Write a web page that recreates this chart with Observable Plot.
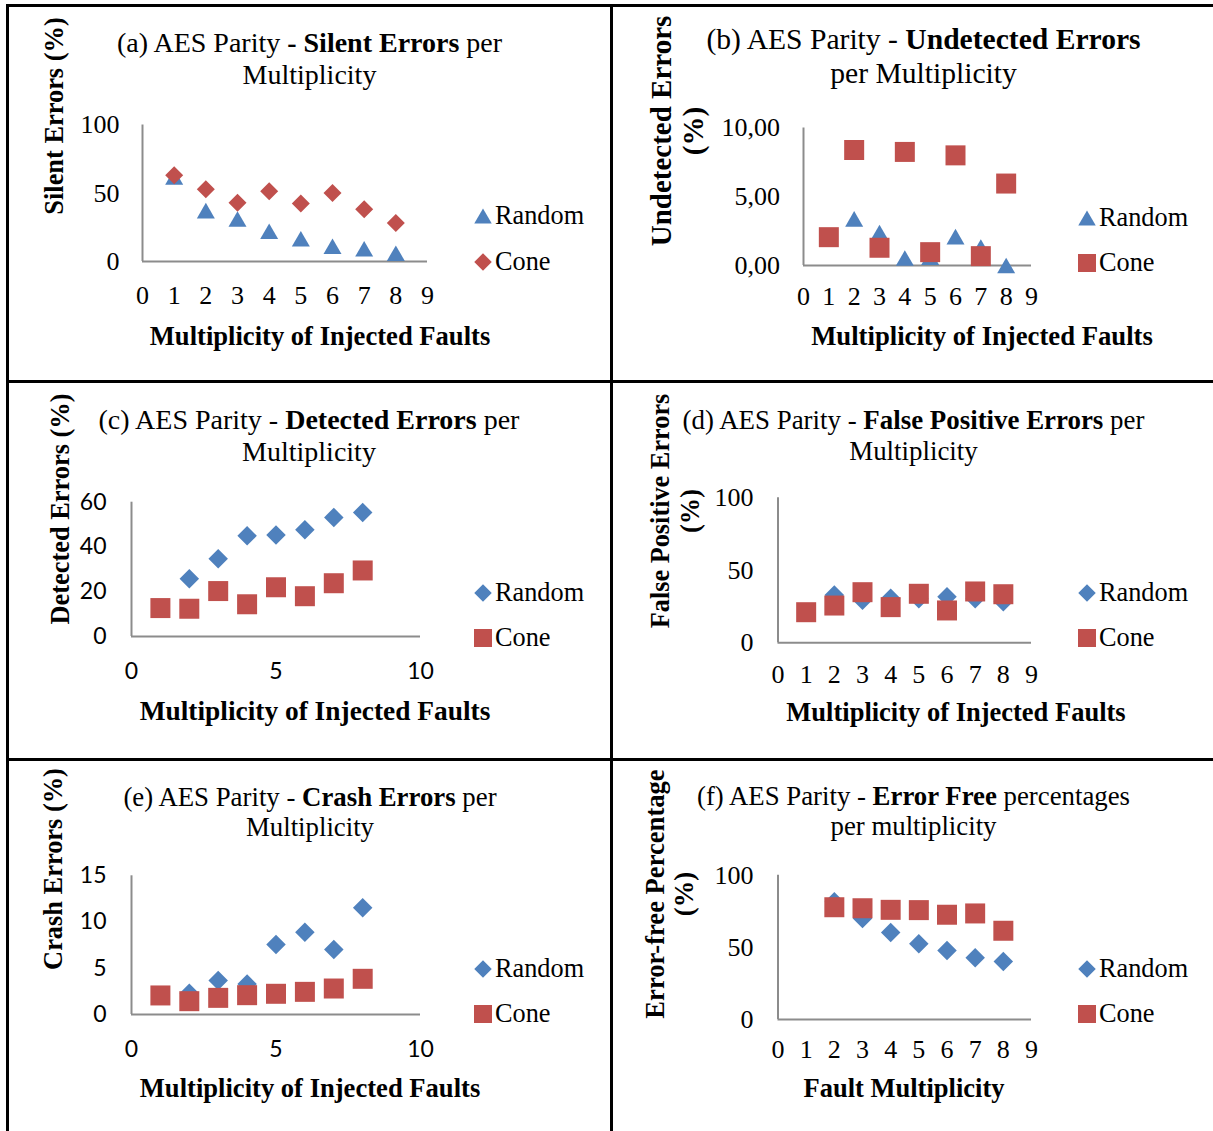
<!DOCTYPE html>
<html>
<head>
<meta charset="utf-8">
<script src="https://cdn.jsdelivr.net/npm/d3@7"></script>
<script src="https://cdn.jsdelivr.net/npm/@observablehq/plot@0.6"></script>
<style>
html, body { margin: 0; padding: 0; background: #fff; }
#page { position: relative; width: 1213px; height: 1131px; overflow: hidden; background: #fff;
        font-family: "Liberation Serif", "Times New Roman", serif; color: #000; }
.rule { position: absolute; background: #000; }
.t { position: absolute; white-space: nowrap; line-height: 1; font-family: "Liberation Serif", serif; color: #000; }
.rot { position: absolute; width: 0; height: 0; transform: rotate(-90deg); transform-origin: 0 0; }
</style>
</head>
<body>
<div id="page"></div>
<script>
// ---------------- DATA ----------------
const multiplicity = [1, 2, 3, 4, 5, 6, 7, 8];
const multiplicityFrom2 = [2, 3, 4, 5, 6, 7, 8];

// (a) Silent errors (%)
const silentRandom = [62, 37.3, 31.1, 22.2, 16.7, 11.2, 9.3, 6.1];
const silentCone   = [63.2, 52.9, 43.1, 51.5, 42.4, 50.2, 38.2, 28.2];

// (b) Undetected errors (%)
const undetectedRandom = [3.39, 2.4, 0.54, 0.6, 2.1, 1.35, 0.0];        // x = 2..8
const undetectedCone   = [2.06, 8.4, 1.29, 8.26, 0.97, 8.01, 0.68, 5.96]; // x = 1..8

// (c) Detected errors (%)
const detectedRandom = [25.8, 34.7, 45.0, 45.3, 47.7, 53.2, 55.4];       // x = 2..8
const detectedCone   = [12.7, 12.4, 20.3, 14.4, 22.0, 18.0, 23.8, 29.5];

// (d) False positive errors (%)
const falsePositiveRandom = [33.0, 29.3, 30.7, 30.4, 31.8, 30.4, 28.3];  // x = 2..8
const falsePositiveCone   = [21.1, 25.7, 34.9, 24.6, 33.8, 22.3, 35.4, 33.5];

// (e) Crash errors (%)
const crashRandom = [2.3, 3.68, 3.3, 7.58, 8.9, 7.03, 11.55];            // x = 2..8
const crashCone   = [2.06, 1.44, 1.8, 2.09, 2.24, 2.45, 2.81, 3.86];

// (f) Error-free percentage
const errorFreeRandom = [81.6, 70.0, 60.3, 52.5, 47.8, 42.8, 40.2];      // x = 2..8
const errorFreeCone   = [77.8, 77.1, 76.0, 75.8, 72.6, 73.5, 61.5];      // x = 2..8

// tick labels
const xTicks0to9 = [0, 1, 2, 3, 4, 5, 6, 7, 8, 9];
const xTicks0to10 = [0, 5, 10];
const yTicksPct = [0, 50, 100];
const yTicksUndetected = [0, 5, 10];
const yTicksDetected = [0, 20, 40, 60];
const yTicksCrash = [0, 5, 10, 15];
const seriesNames = ["Random", "Cone"];

// ---------------- STYLE ----------------
const BLUE = "#4f81bd", RED = "#c0504d", AXIS = "#8c8c8c";
const SERIF = "'Liberation Serif', 'Times New Roman', serif";
const SANS = "Lato, 'Open Sans', sans-serif";

// bounding-box-centred triangle (Excel style), area = size
const triangleBox = {
  draw(ctx, size) {
    const s = Math.sqrt(4 * size / Math.sqrt(3));
    const h = s * Math.sqrt(3) / 2;
    ctx.moveTo(0, -h / 2); ctx.lineTo(s / 2, h / 2); ctx.lineTo(-s / 2, h / 2); ctx.closePath();
  }
};
const SYMBOLS = { triangle: triangleBox, diamond: d3.symbolDiamond2, square: d3.symbolSquare };
// radius (Plot r) giving a marker of the given pixel extent
function rFor(shape, px) {
  if (shape === "triangle") return Math.sqrt((Math.sqrt(3) / 4) * px * px / Math.PI);
  if (shape === "diamond") return (px / 2) / (0.62625 * Math.sqrt(Math.PI));
  return px / Math.sqrt(Math.PI);
}

const page = document.getElementById("page");

// panel border lines
[[6, 4, 1213, 3], [6, 4, 3, 1131], [610, 4, 3, 1131], [6, 380, 1213, 3], [6, 758, 1213, 3]]
  .forEach(([l, t, w, h]) => {
    const d = document.createElement("div"); d.className = "rule";
    Object.assign(d.style, { left: l + "px", top: t + "px", width: w + "px", height: h + "px" });
    page.appendChild(d);
  });

function addText(html, o) {
  const size = o.size || 26;
  const asc = 0.8375 * size;
  const d = document.createElement("div"); d.className = "t"; d.innerHTML = html;
  d.style.fontSize = size + "px";
  if (o.bold) d.style.fontWeight = "bold";
  if (o.rotate) {
    const w = document.createElement("div"); w.className = "rot";
    w.style.left = o.x + "px"; w.style.top = o.y + "px";
    d.style.left = "0px"; d.style.top = (-asc) + "px"; d.style.transform = "translateX(-50%)";
    w.appendChild(d); page.appendChild(w);
  } else {
    d.style.left = o.x + "px"; d.style.top = (o.y - asc) + "px";
    if (o.anchor === "middle") d.style.transform = "translateX(-50%)";
    page.appendChild(d);
  }
}

function addMarker(shape, cx, cy, px, color) {
  const svg = d3.select(page).append("svg")
    .attr("width", 30).attr("height", 30)
    .style("position", "absolute").style("left", (cx - 15) + "px").style("top", (cy - 15) + "px");
  const r = rFor(shape, px);
  svg.append("path").attr("transform", "translate(15,15)")
    .attr("d", d3.symbol(SYMBOLS[shape], Math.PI * r * r)()).attr("fill", color);
}

const panels = [
  { title: ["(a) AES Parity <b>- Silent Errors</b> per", "Multiplicity"], tx: 309.5, tb: [52, 84], tSize: 28,
    ylab: ["Silent Errors (%)"], yx: 63, yc: 115.5, yGap: 0, ySize: 26.4,
    xlab: "Multiplicity of Injected Faults", xc: 320, xb: 345, xSize: 26.6,
    box: { left: 9, top: 7, w: 601, h: 373 }, frame: { x0: 142, x1: 427, yTop: 124.5, y0: 261 },
    xDomain: [0, 9], xTicks: xTicks0to9, yDomain: [0, 100], yTicks: yTicksPct, yFmt: d => String(d),
    font: SERIF, fontSize: 26, xPad: 24, yPad: 23,
    series: [
      { x: multiplicity, y: silentRandom, shape: "triangle", px: 18, color: BLUE },
      { x: multiplicity, y: silentCone, shape: "diamond", px: 18, color: RED }
    ],
    leg: { mx: 482.5, tx: 495, b: [225, 271], shapes: ["triangle", "diamond"] } },
  { title: ["(b) AES Parity - <b>Undetected Errors</b>", "per Multiplicity"], tx: 923.5, tb: [49.5, 83.5], tSize: 29.6,
    ylab: ["Undetected Errors", "(%)"], yx: 671, yc: 131, yGap: 32, ySize: 29,
    xlab: "Multiplicity of Injected Faults", xc: 982, xb: 345, xSize: 26.7,
    box: { left: 613, top: 7, w: 600, h: 373 }, frame: { x0: 803, x1: 1031, yTop: 127.5, y0: 265 },
    xDomain: [0, 9], xTicks: xTicks0to9, yDomain: [0, 10], yTicks: yTicksUndetected,
    yFmt: d => d.toFixed(2).replace(".", ","),
    font: SERIF, fontSize: 26, xPad: 21.5, yPad: 23.5,
    series: [
      { x: multiplicityFrom2, y: undetectedRandom, shape: "triangle", px: 18, color: BLUE },
      { x: multiplicity, y: undetectedCone, shape: "square", px: 20, color: RED }
    ],
    leg: { mx: 1086.5, tx: 1099, b: [227.5, 272.5], shapes: ["triangle", "square"] } },
  { title: ["(c) AES Parity - <b>Detected Errors</b> per", "Multiplicity"], tx: 309, tb: [429, 461.5], tSize: 28,
    ylab: ["Detected Errors (%)"], yx: 69, yc: 509, yGap: 0, ySize: 26.4,
    xlab: "Multiplicity of Injected Faults", xc: 315, xb: 721, xSize: 27.4,
    box: { left: 9, top: 383, w: 601, h: 375 }, frame: { x0: 131, x1: 420, yTop: 501.7, y0: 636 },
    xDomain: [0, 10], xTicks: xTicks0to10, yDomain: [0, 60], yTicks: yTicksDetected, yFmt: d => String(d),
    font: SANS, fontSize: 23, xPad: 26.5, yPad: 25,
    series: [
      { x: multiplicityFrom2, y: detectedRandom, shape: "diamond", px: 19.5, color: BLUE },
      { x: multiplicity, y: detectedCone, shape: "square", px: 20, color: RED }
    ],
    leg: { mx: 482.5, tx: 495, b: [602.5, 647.5], shapes: ["diamond", "square"] } },
  { title: ["(d) AES Parity - <b>False Positive Errors</b> per", "Multiplicity"], tx: 913.5, tb: [430, 461], tSize: 26.9,
    ylab: ["False Positive Errors", "(%)"], yx: 670, yc: 510.5, yGap: 30, ySize: 26.3,
    xlab: "Multiplicity of Injected Faults", xc: 956, xb: 721, xSize: 26.5,
    box: { left: 613, top: 383, w: 600, h: 375 }, frame: { x0: 777.5, x1: 1031, yTop: 497.3, y0: 642.3 },
    xDomain: [0, 9], xTicks: xTicks0to9, yDomain: [0, 100], yTicks: yTicksPct, yFmt: d => String(d),
    font: SERIF, fontSize: 26, xPad: 21.5, yPad: 24.5,
    series: [
      { x: multiplicityFrom2, y: falsePositiveRandom, shape: "diamond", px: 19.5, color: BLUE },
      { x: multiplicity, y: falsePositiveCone, shape: "square", px: 20, color: RED }
    ],
    leg: { mx: 1086.5, tx: 1099, b: [602, 647], shapes: ["diamond", "square"] } },
  { title: ["(e) AES Parity - <b>Crash Errors</b> per", "Multiplicity"], tx: 310, tb: [806, 836], tSize: 26.8,
    ylab: ["Crash Errors (%)"], yx: 62, yc: 869, yGap: 0, ySize: 26.4,
    xlab: "Multiplicity of Injected Faults", xc: 310, xb: 1097, xSize: 26.6,
    box: { left: 9, top: 761, w: 601, h: 370 }, frame: { x0: 131, x1: 420, yTop: 875.3, y0: 1014 },
    xDomain: [0, 10], xTicks: xTicks0to10, yDomain: [0, 15], yTicks: yTicksCrash, yFmt: d => String(d),
    font: SANS, fontSize: 23, xPad: 26.5, yPad: 25,
    series: [
      { x: multiplicityFrom2, y: crashRandom, shape: "diamond", px: 19.5, color: BLUE },
      { x: multiplicity, y: crashCone, shape: "square", px: 20, color: RED }
    ],
    leg: { mx: 482.5, tx: 495, b: [978, 1023], shapes: ["diamond", "square"] } },
  { title: ["(f) AES Parity - <b>Error Free</b> percentages", "per multiplicity"], tx: 913.5, tb: [805, 835], tSize: 26.8,
    ylab: ["Error-free Percentage", "(%)"], yx: 664, yc: 894, yGap: 29, ySize: 26.6,
    xlab: "Fault Multiplicity", xc: 904, xb: 1097, xSize: 26.5,
    box: { left: 613, top: 761, w: 600, h: 370 }, frame: { x0: 777.5, x1: 1031, yTop: 874.7, y0: 1019 },
    xDomain: [0, 9], xTicks: xTicks0to9, yDomain: [0, 100], yTicks: yTicksPct, yFmt: d => String(d),
    font: SERIF, fontSize: 26, xPad: 20.5, yPad: 24.5,
    series: [
      { x: multiplicityFrom2, y: errorFreeRandom, shape: "diamond", px: 19.5, color: BLUE },
      { x: multiplicityFrom2, y: errorFreeCone, shape: "square", px: 20, color: RED }
    ],
    leg: { mx: 1086.5, tx: 1099, b: [978, 1023], shapes: ["diamond", "square"] } }
];

panels.forEach(p => {
  const { box, frame } = p;
  const chart = Plot.plot({
    width: box.w, height: box.h,
    marginLeft: frame.x0 - box.left,
    marginRight: box.left + box.w - frame.x1,
    marginTop: frame.yTop - box.top,
    marginBottom: box.top + box.h - frame.y0,
    x: { domain: p.xDomain, ticks: p.xTicks, tickSize: 0, tickPadding: p.xPad, label: null, tickFormat: d => String(d) },
    y: { domain: p.yDomain, ticks: p.yTicks, tickSize: 0, tickPadding: p.yPad, label: null, tickFormat: p.yFmt },
    style: { fontFamily: p.font, fontSize: p.fontSize + "px", color: "#000", background: "transparent", overflow: "visible" },
    marks: [
      Plot.ruleY([0], { stroke: AXIS, strokeWidth: 2 }),
      Plot.ruleX([0], { stroke: AXIS, strokeWidth: 2 }),
      ...p.series.map(s => Plot.dot(
        s.x.map((v, i) => ({ m: v, v: s.y[i] })),
        { x: "m", y: "v", symbol: SYMBOLS[s.shape], r: rFor(s.shape, s.px), fill: s.color }
      ))
    ]
  });
  chart.style.position = "absolute";
  chart.style.left = box.left + "px";
  chart.style.top = box.top + "px";
  page.appendChild(chart);

  // title
  p.title.forEach((line, i) => addText(line, { x: p.tx, y: p.tb[i], anchor: "middle", size: p.tSize }));
  // y-axis title
  p.ylab.forEach((line, i) => addText(line, { x: p.yx + i * p.yGap, y: p.yc, rotate: true, bold: true, size: p.ySize }));
  // x-axis title
  addText(p.xlab, { x: p.xc, y: p.xb, anchor: "middle", bold: true, size: p.xSize });
  // legend
  seriesNames.forEach((name, i) => {
    const s = p.series[i];
    addMarker(p.leg.shapes[i], p.leg.mx, p.leg.b[i] - 9.5, s.shape === "square" ? 18 : 17.5, s.color);
    addText(name, { x: p.leg.tx, y: p.leg.b[i], size: 26.3 });
  });
});
</script>
</body>
</html>
